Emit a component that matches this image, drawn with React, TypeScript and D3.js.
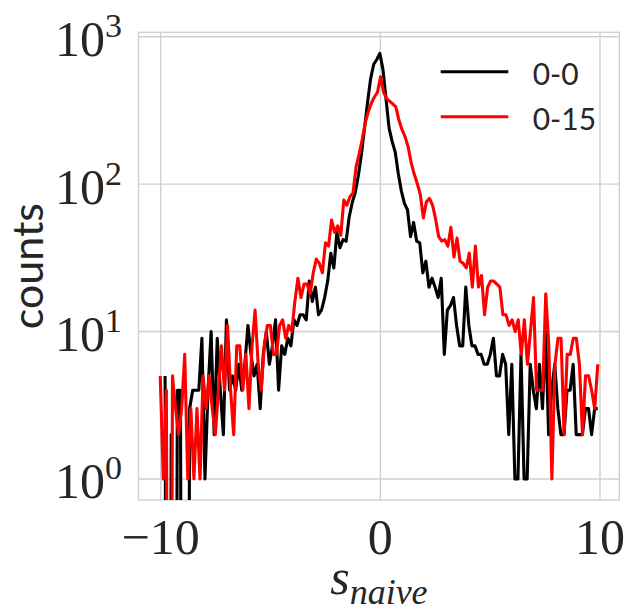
import React from "react";
import * as d3 from "d3";

// ---- data ----
const seriesNames = ["0-0", "0-15"];
const seriesColors = ["#000000", "#ff0000"];

// histogram bins (bin position = start + i * width)
const blackBinStart = -9.8;
const blackBinWidth = 0.1397;
const redBinStart = -10.02;
const redBinWidth = 0.1393;

const blackCounts = [
  5, 0, 2, 0, 4, 4, 0, 0, 3, 4,
  4, 4, 9, 1, 4, 10, 2, 9, 4, 2,
  12, 4, 5, 4, 6, 4, 6, 11, 7, 5,
  6, 3, 7, 10, 6, 8, 12, 4, 8, 7,
  9, 8, 12, 11, 13, 13, 12, 22, 16, 20,
  13, 14, 17, 22, 34, 27, 47, 37, 42, 41,
  60, 75, 88, 115, 160, 240, 360, 520, 650, 700,
  770, 600, 380, 240, 195, 165, 118, 90, 74, 67,
  44, 55, 41, 40, 25, 30, 20, 23, 20, 17,
  23, 7, 14, 15, 17, 11, 8, 8, 20, 11,
  8, 8, 7, 7, 6, 6, 7, 9, 5, 5,
  7, 6, 2, 6, 1, 1, 7, 1, 1, 6,
  4, 3, 6, 3, 10, 2, 4, 6, 3, 2,
  2, 4, 4, 6, 2, 2, 2, 3, 3, 2,
  3, 3,
];

const redCounts = [
  5, 1, 4, 0, 5, 3, 2, 3, 7, 1,
  3, 1, 3, 1, 5, 3, 5, 3, 2, 4,
  8, 4, 11, 4, 2, 8, 8, 4, 7, 3,
  8, 14, 6, 4, 8, 11, 11, 7, 7, 11,
  12, 9, 11, 10, 16, 23, 17, 21, 21, 18,
  25, 31, 29, 25, 40, 38, 57, 47, 52, 45,
  78, 72, 82, 87, 131, 160, 200, 260, 310, 355,
  390, 420, 534, 420, 380, 365, 350, 334, 272, 235,
  210, 180, 140, 117, 101, 85, 59, 76, 80, 72,
  58, 44, 41, 42, 38, 51, 32, 43, 30, 29,
  27, 34, 20, 38, 20, 24, 13, 20, 22, 22,
  21, 20, 13, 13, 11, 12, 10, 12, 7, 12,
  6, 10, 17, 4, 4, 4, 18, 8, 1, 6,
  9, 9, 2, 7, 7, 9, 9, 6, 2, 5,
  5, 4, 3, 6,
];

const xTicks = [-10, 0, 10];
const xTickLabels = ["\u221210", "0", "10"];
const yTicks = [1, 10, 100, 1000];
const yTickExponents = ["0", "1", "2", "3"];

const xLabelMain = "s";
const xLabelSub = "naive";
const yLabel = "counts";

// ---- layout ----
const W = 628;
const H = 612;
const plotLeft = 138.5;
const plotRight = 619.3;
const plotTop = 32.3;
const plotBottom = 500;

const textColor = "#262626";
const gridColor = "#d0d0d0";
const serif = "'Liberation Serif', 'DejaVu Serif', serif";
const sans = "Lato, 'Open Sans', 'DejaVu Sans', sans-serif";

export default function App() {
  const x = d3.scaleLinear().domain([-11.01, 10.88]).range([plotLeft, plotRight]);
  const y = d3.scaleLog().domain([0.72, 1071]).range([plotBottom, plotTop]);
  const floorVal = 1e-6;

  const toPoints = (counts: number[], start: number, width: number) =>
    counts.map((c, i) => [start + i * width, c] as [number, number]);

  const series = [
    toPoints(blackCounts, blackBinStart, blackBinWidth),
    toPoints(redCounts, redBinStart, redBinWidth),
  ];

  const line = d3
    .line<[number, number]>()
    .x((d) => x(d[0]))
    .y((d) => y(Math.max(d[1], floorVal)));

  const legendX1 = 440.7;
  const legendX2 = 508.3;
  const legendY0 = 71.7;
  const legendDY = 45;

  return (
    <div style={{ position: "absolute", left: 0, top: 0 }}>
      <svg width={W} height={H} style={{ display: "block", background: "#fff" }}>
        <defs>
          <clipPath id="plotClip">
            <rect x={plotLeft} y={plotTop} width={plotRight - plotLeft} height={plotBottom - plotTop} />
          </clipPath>
        </defs>
        <rect x={0} y={0} width={W} height={H} fill="#fff" />
        {/* grid */}
        {xTicks.map((t) => (
          <line key={"gx" + t} x1={x(t)} x2={x(t)} y1={plotTop} y2={plotBottom} stroke={gridColor} strokeWidth={1.4} />
        ))}
        {yTicks.map((t) => (
          <line key={"gy" + t} x1={plotLeft} x2={plotRight} y1={y(t)} y2={y(t)} stroke={gridColor} strokeWidth={1.4} />
        ))}
        {/* frame */}
        <rect
          x={plotLeft}
          y={plotTop}
          width={plotRight - plotLeft}
          height={plotBottom - plotTop}
          fill="none"
          stroke={gridColor}
          strokeWidth={1.4}
        />
        {/* data */}
        <g clipPath="url(#plotClip)">
          {series.map((pts, k) => (
            <path
              key={"s" + k}
              d={line(pts) || ""}
              fill="none"
              stroke={seriesColors[k]}
              strokeWidth={3.1}
              strokeLinejoin="round"
            />
          ))}
        </g>
        {/* x tick labels */}
        {xTicks.map((t, i) => (
          <text
            key={"xt" + t}
            x={x(t)}
            y={554}
            textAnchor="middle"
            fontFamily={serif}
            fontSize={50}
            fill={textColor}
          >
            {xTickLabels[i]}
          </text>
        ))}
        {/* y tick labels */}
        {yTicks.map((t, i) => (
          <text
            key={"yt" + t}
            x={122}
            y={y(t) + 19.5}
            textAnchor="end"
            fontFamily={serif}
            fontSize={50}
            fill={textColor}
          >
            10
            <tspan dy={-19} fontSize={34}>
              {yTickExponents[i]}
            </tspan>
          </text>
        ))}
        {/* x label */}
        <text
          x={(plotLeft + plotRight) / 2}
          y={594}
          textAnchor="middle"
          fontFamily={serif}
          fontStyle="italic"
          fontSize={50}
          fill={textColor}
        >
          {xLabelMain}
          <tspan dy={10} fontSize={36}>
            {xLabelSub}
          </tspan>
        </text>
        {/* y label */}
        <text
          transform={`translate(43, ${(plotTop + plotBottom) / 2}) rotate(-90)`}
          textAnchor="middle"
          fontFamily={sans}
          fontSize={43}
          fill={textColor}
        >
          {yLabel}
        </text>
        {/* legend */}
        {seriesNames.map((name, k) => (
          <g key={"lg" + k}>
            <line
              x1={legendX1}
              x2={legendX2}
              y1={legendY0 + k * legendDY}
              y2={legendY0 + k * legendDY}
              stroke={seriesColors[k]}
              strokeWidth={3}
            />
            <text
              x={532.7}
              y={legendY0 + k * legendDY + 13.3}
              fontFamily={sans}
              fontSize={30}
              fill={textColor}
            >
              {name}
            </text>
          </g>
        ))}
      </svg>
    </div>
  );
}
